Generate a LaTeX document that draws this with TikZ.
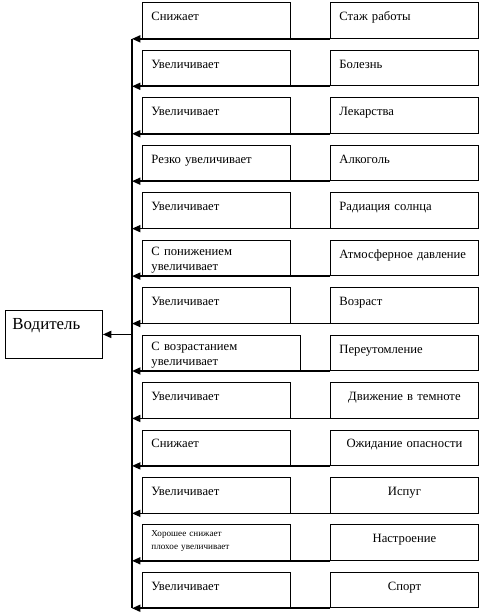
\documentclass[tikz,border=0pt]{standalone}
\usepackage{fontspec}
\setmainfont{Liberation Serif}
\usetikzlibrary{arrows.meta}

\begin{document}
\begin{tikzpicture}[x = 0.025cm, y = -0.025cm, font = \fontsize{9}{10.7}\selectfont,
        factor/.style = {draw, line width = 0.6pt, anchor = north west, inner xsep = 6.4pt, inner ysep = 0pt,
            text width = 92.47pt, align = left, text height = 12.8pt, text depth = 12.45pt},
        twoline/.style = {text height = 11.2pt, text depth = 14.05pt},
        middle/.style = {align = center},
        flow/.style = {line width = 1.2pt, -{Triangle[length = 6pt, width = 5pt]}}]
        \fill [white] (0,0) rectangle (487,615);
        \useasboundingbox (0,0) rectangle (487,615);

        \node [factor] (effect1) at (142,2.5) {Снижает};
        \node [factor] (cause1) at (330,2.5) {Стаж работы};

        \node [factor] (effect2) at (142,49.95) {Увеличивает};
        \node [factor] (cause2) at (330,49.95) {Болезнь};

        \node [factor] (effect3) at (142,97.4) {Увеличивает};
        \node [factor] (cause3) at (330,97.4) {Лекарства};

        \node [factor] (effect4) at (142,144.85) {Резко увеличивает};
        \node [factor] (cause4) at (330,144.85) {Алкоголь};

        \node [factor] (effect5) at (142,192.3) {Увеличивает};
        \node [factor] (cause5) at (330,192.3) {Радиация солнца};

        \node [factor, twoline] (effect6) at (142,239.75) {С понижением\\ увеличивает};
        \node [factor] (cause6) at (330,239.75) {Атмосферное давление};

        \node [factor] (effect7) at (142,287.2) {Увеличивает};
        \node [factor] (cause7) at (330,287.2) {Возраст};

        \node [factor, twoline, text width = 99.6pt] (effect8) at (142,334.65) {С возрастанием\\ увеличивает};
        \node [factor] (cause8) at (330,334.65) {Переутомление};

        \node [factor] (effect9) at (142,382.1) {Увеличивает};
        \node [factor, middle] (cause9) at (330,382.1) {Движение в темноте};

        \node [factor] (effect10) at (142,429.55) {Снижает};
        \node [factor, middle] (cause10) at (330,429.55) {Ожидание опасности};

        \node [factor] (effect11) at (142,477) {Увеличивает};
        \node [factor, middle] (cause11) at (330,477) {Испуг};

        \node [factor, font = \fontsize{6.5}{9.2}\selectfont, text height = 8.5pt, text depth = 16.75pt] (effect12) at (142,524.45) {Хорошее снижает\\ плохое увеличивает};
        \node [factor, middle] (cause12) at (330,524.45) {Настроение};

        \node [factor] (effect13) at (142,571.9) {Увеличивает};
        \node [factor, middle] (cause13) at (330,571.9) {Спорт};

        \node [draw, line width = 0.6pt, anchor = north west, font = \fontsize{12}{14}\selectfont, inner xsep = 5pt, inner ysep = 0pt,
            text width = 59pt, align = left, text height = 13.5pt, text depth = 20.64pt] (driver) at (5,310) {Водитель};

        \coordinate (bus) at (132,0);

        \draw [flow] (cause1.south west) -- (cause1.south west -| bus);
        \draw [flow] (cause2.south west) -- (cause2.south west -| bus);
        \draw [flow] (cause3.south west) -- (cause3.south west -| bus);
        \draw [flow] (cause4.south west) -- (cause4.south west -| bus);
        \draw [flow] (cause5.south west) -- (cause5.south west -| bus);
        \draw [flow] (cause6.south west) -- (cause6.south west -| bus);
        \draw [flow] (cause7.south west) -- (cause7.south west -| bus);
        \draw [flow] (cause8.south west) -- (cause8.south west -| bus);
        \draw [flow] (cause9.south west) -- (cause9.south west -| bus);
        \draw [flow] (cause10.south west) -- (cause10.south west -| bus);
        \draw [flow] (cause11.south west) -- (cause11.south west -| bus);
        \draw [flow] (cause12.south west) -- (cause12.south west -| bus);
        \draw [flow] (cause13.south west) -- (cause13.south west -| bus);

        \draw [line width = 1.2pt] (cause1.south west -| bus) -- (cause13.south west -| bus);

        \draw [flow] (driver.east -| bus) -- (driver.east);
    \end{tikzpicture}
\end{document}
